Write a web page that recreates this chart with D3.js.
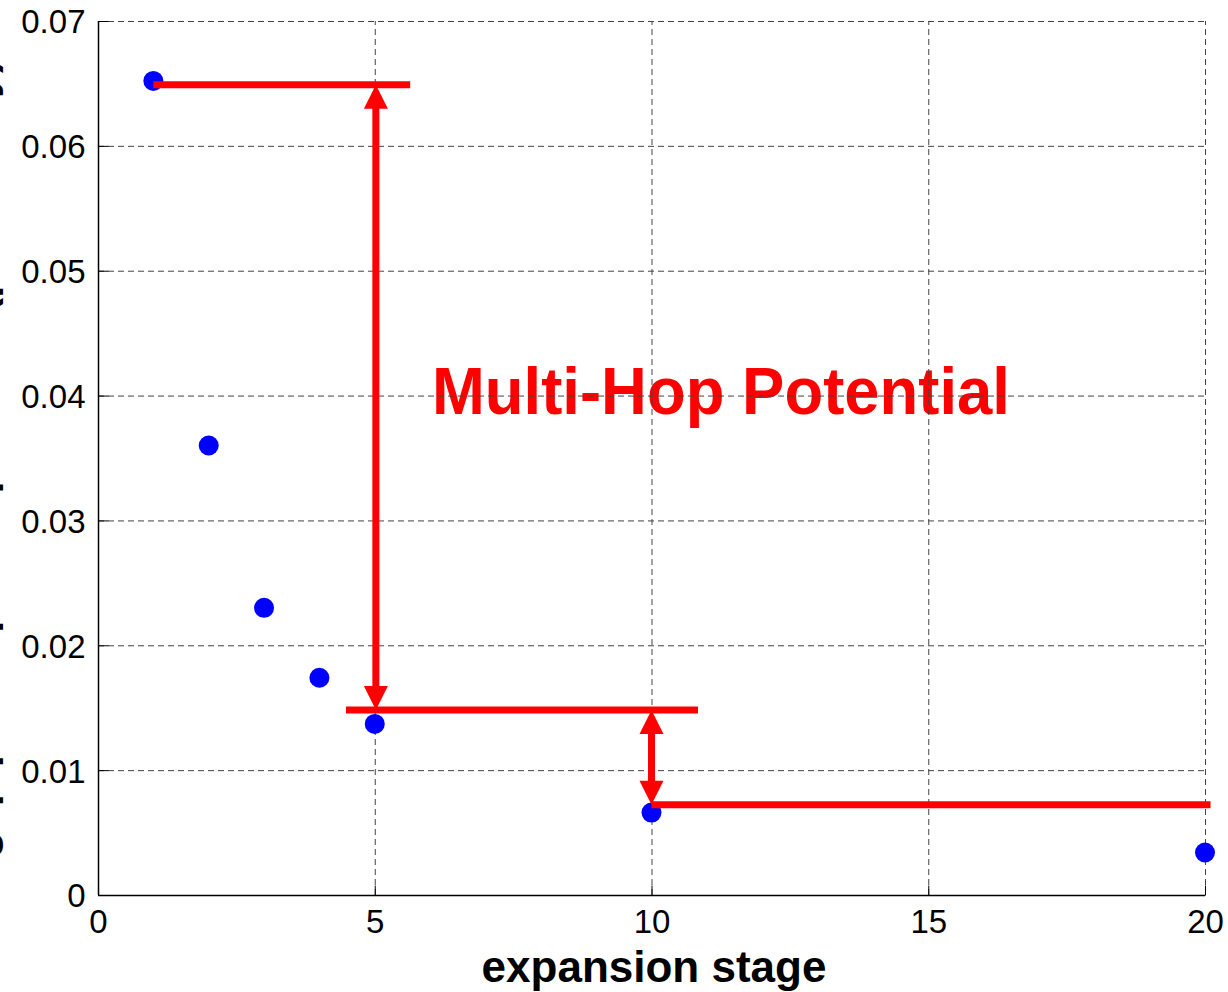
<!DOCTYPE html>
<html>
<head>
<meta charset="utf-8">
<script src="https://cdn.jsdelivr.net/npm/d3@7"></script>
<style>
  body { margin: 0; background: #fff; }
  svg { display: block; }
</style>
</head>
<body>
<figure id="chart" style="margin:0"></figure>
<script>
// measured values
const stages = [1, 2, 3, 4, 5, 10, 20];
const values = [0.0652, 0.0360, 0.0230, 0.0174, 0.0137, 0.0066, 0.0034];

const xTicks = [0, 5, 10, 15, 20];
const yTicks = [0, 0.01, 0.02, 0.03, 0.04, 0.05, 0.06, 0.07];

// annotation levels (data units): [x0, x1, y]
const levelLines = [
  [1.0, 5.64, 0.0649],
  [4.48, 10.84, 0.01482],
  [10.0, 20.1, 0.00722]
];
// double arrows: [x, yTop, yBottom]
const arrows = [
  [5.02, 0.0649, 0.01482],
  [10.0, 0.01482, 0.00722]
];
const annotationText = "Multi-Hop Potential";
const xLabel = "expansion stage";
const yLabel = "gap per hop in expansion (probability)";

const width = 1228, height = 992;
const mLeft = 98, mRight = 1205, mTop = 21, mBottom = 895;

const svg = d3.select("#chart").append("svg")
  .attr("width", width)
  .attr("height", height);

const x = d3.scaleLinear().domain([0, 20]).range([mLeft, mRight]);
const y = d3.scaleLinear().domain([0, 0.07]).range([mBottom, mTop]);

// annotation text (grid is drawn over it, like the original)
svg.append("text")
  .attr("x", 432)
  .attr("y", y(0.0385))
  .attr("font-family", "Liberation Sans, Arial, sans-serif")
  .attr("font-weight", "bold")
  .attr("font-size", "66px")
  .attr("fill", "#ff0000")
  .attr("textLength", 578)
  .attr("lengthAdjust", "spacingAndGlyphs")
  .text(annotationText);

// grid
const grid = svg.append("g")
  .attr("stroke", "#444")
  .attr("stroke-width", 1)
  .attr("stroke-dasharray", "6,4");

grid.selectAll(".gx").data(xTicks.filter(d => d > 0)).enter().append("line")
  .attr("x1", d => x(d) + 0.5).attr("x2", d => x(d) + 0.5)
  .attr("y1", mBottom).attr("y2", mTop);

grid.selectAll(".gy").data(yTicks.filter(d => d > 0)).enter().append("line")
  .attr("x1", mLeft).attr("x2", mRight)
  .attr("y1", d => y(d) + 0.5).attr("y2", d => y(d) + 0.5);

// axes
const xAxis = d3.axisBottom(x).tickValues(xTicks).tickSize(-10).tickPadding(14).tickFormat(d3.format("d"));
const yAxis = d3.axisLeft(y).tickValues(yTicks).tickSize(-10).tickPadding(13).tickFormat(d => d === 0 ? "0" : d3.format(".2f")(d));

const gx = svg.append("g").attr("transform", "translate(0," + (mBottom + 0.5) + ")").call(xAxis);
const gy = svg.append("g").attr("transform", "translate(" + (mLeft + 0.5) + ",0)").call(yAxis);

[gx, gy].forEach(g => {
  g.select(".domain").attr("stroke", "#000").attr("stroke-width", 1.5);
  g.selectAll(".tick line").attr("stroke", "#000");
  g.selectAll(".tick text")
    .attr("fill", "#000")
    .attr("font-family", "Liberation Sans, Arial, sans-serif")
    .attr("font-size", "33px");
});
// plain axis lines, no end caps
gx.select(".domain").attr("d", "M" + mLeft + ",0H" + mRight);
gy.select(".domain").attr("d", "M0," + mTop + "V" + mBottom);
gy.selectAll(".tick text").attr("dy", "0.36em");

// x label
svg.append("text")
  .attr("x", 654)
  .attr("y", 982)
  .attr("text-anchor", "middle")
  .attr("font-family", "Liberation Sans, Arial, sans-serif")
  .attr("font-weight", "bold")
  .attr("font-size", "44px")
  .attr("fill", "#000")
  .text(xLabel);

// y label, mostly off the page
svg.append("text")
  .attr("transform", "translate(-6," + ((mTop + mBottom) / 2) + ") rotate(-90)")
  .attr("text-anchor", "middle")
  .attr("font-family", "Liberation Sans, Arial, sans-serif")
  .attr("font-weight", "bold")
  .attr("font-size", "44px")
  .attr("fill", "#000")
  .text(yLabel);

// data points
svg.selectAll(".pt").data(stages).enter().append("circle")
  .attr("cx", d => x(d))
  .attr("cy", (d, i) => y(values[i]))
  .attr("r", 10)
  .attr("fill", "#0000ff");

// red level lines
svg.selectAll(".lvl").data(levelLines).enter().append("line")
  .attr("x1", d => x(d[0])).attr("x2", d => x(d[1]))
  .attr("y1", d => y(d[2])).attr("y2", d => y(d[2]))
  .attr("stroke", "#ff0000")
  .attr("stroke-width", 7);

// double arrows
const headLen = 24, headHalf = 12;
arrows.forEach(a => {
  const ax = x(a[0]), y0 = y(a[1]), y1 = y(a[2]);
  svg.append("line")
    .attr("x1", ax).attr("x2", ax)
    .attr("y1", y0 + headLen - 2).attr("y2", y1 - headLen + 2)
    .attr("stroke", "#ff0000")
    .attr("stroke-width", 7);
  svg.append("path")
    .attr("d", "M" + ax + "," + y0 + "L" + (ax - headHalf) + "," + (y0 + headLen) + "L" + (ax + headHalf) + "," + (y0 + headLen) + "Z")
    .attr("fill", "#ff0000");
  svg.append("path")
    .attr("d", "M" + ax + "," + y1 + "L" + (ax - headHalf) + "," + (y1 - headLen) + "L" + (ax + headHalf) + "," + (y1 - headLen) + "Z")
    .attr("fill", "#ff0000");
});
</script>
</body>
</html>
